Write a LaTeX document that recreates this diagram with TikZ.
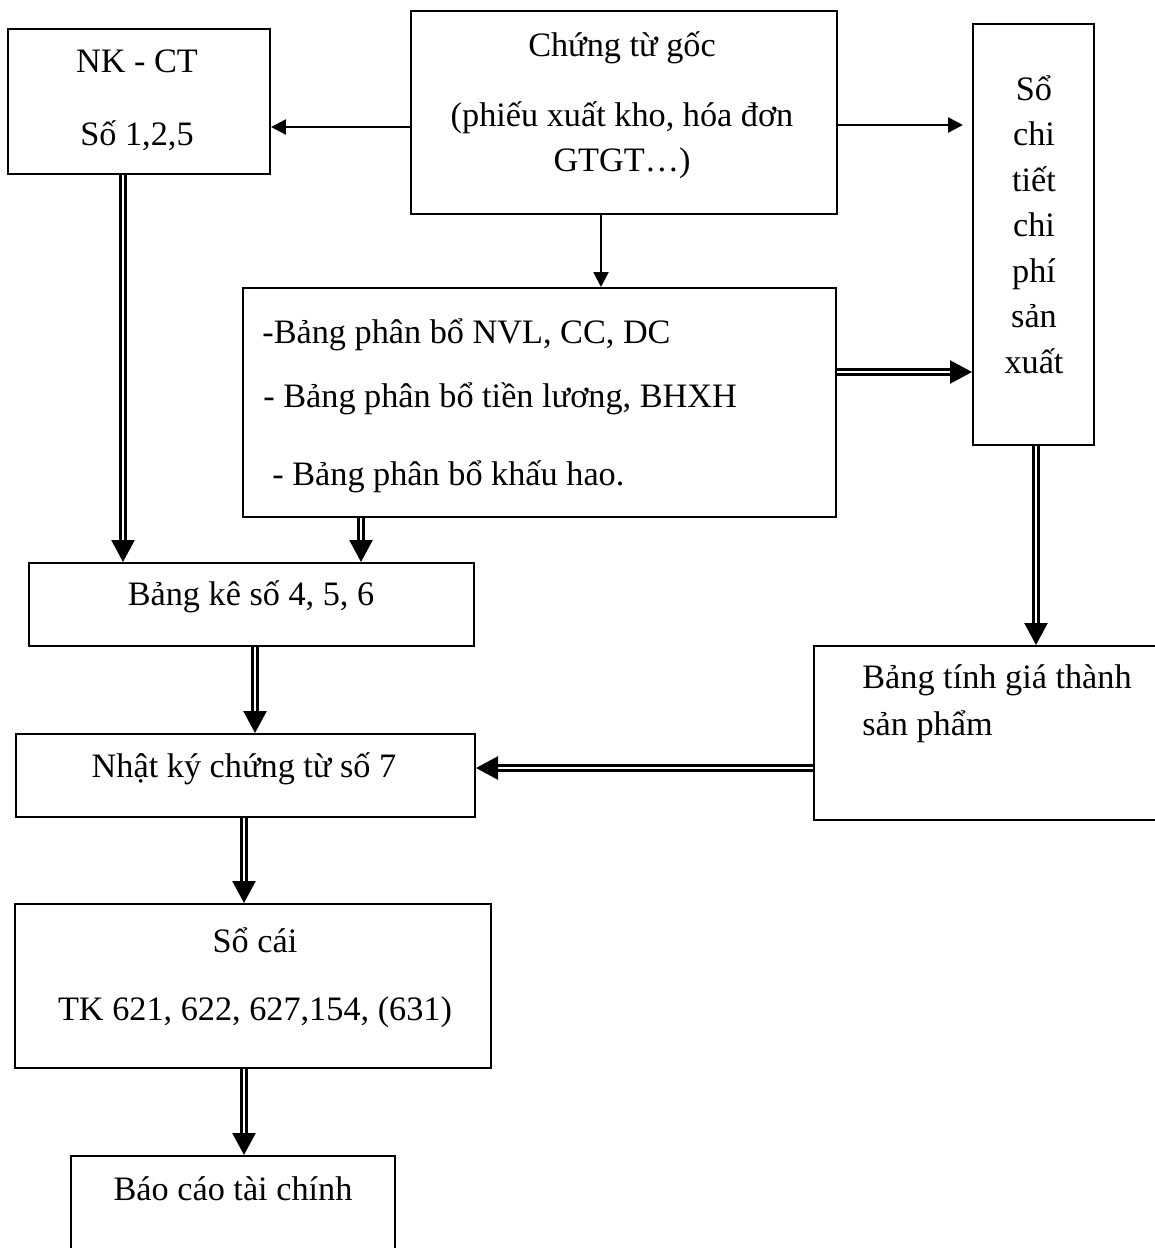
\documentclass[tikz,border=0pt]{standalone}
\usepackage{fontspec}
\setmainfont{Liberation Serif}
\usetikzlibrary{arrows.meta,fit}
\tikzset{
  box/.style={draw=black, line width=0.04cm, inner sep=0pt, fill=none},
  txt/.style={inner sep=0pt, font=\fontsize{19.5}{23}\selectfont},
  sarrow/.style={draw=black, line width=0.05cm, -{Triangle[length=0.3cm,width=0.3cm]}},
  darrow/.style={draw=black, line width=0.05cm, double=white, double distance=0.05cm,
                 -{Triangle[length=0.44cm,width=0.46cm]}}
}
\begin{document}
\begin{tikzpicture}[x=0.02cm,y=-0.02cm]
\clip (0,0) rectangle (1155,1248);
\fill[white] (0,0) rectangle (1155,1248);
% boxes
\node[box, fit={(8,29) (270,174)}] (nk) {};
\node[box, fit={(411,11) (837,214)}] (ctg) {};
\node[box, fit={(973,24) (1094,445)}] (sct) {};
\node[box, fit={(243,288) (836,517)}] (bpb) {};
\node[box, fit={(29,563) (474,646)}] (bk) {};
\node[box, fit={(16,734) (475,817)}] (nk7) {};
\node[box, fit={(814,646) (1165,820)}] (btg) {};
\node[box, fit={(15,904) (491,1068)}] (sc) {};
\node[box, fit={(71,1156) (395,1265)}] (bc) {};
% texts
\node[txt, anchor=base] (t-nk1) at (137,72) {NK - CT};
\node[txt, anchor=base] (t-nk2) at (137,145) {Số 1,2,5};
\node[txt, anchor=base] (t-c1) at (622,56) {Chứng từ gốc};
\node[txt, anchor=base] (t-c2) at (622,126) {(phiếu xuất kho, hóa đơn};
\node[txt, anchor=base] (t-c3) at (622,171) {GTGT…)};
\node[txt, anchor=base] (t-s1) at (1034,100) {Sổ};
\node[txt, anchor=base] (t-s2) at (1034,145) {chi};
\node[txt, anchor=base] (t-s3) at (1034,191) {tiết};
\node[txt, anchor=base] (t-s4) at (1034,236) {chi};
\node[txt, anchor=base] (t-s5) at (1034,282) {phí};
\node[txt, anchor=base] (t-s6) at (1034,327) {sản};
\node[txt, anchor=base] (t-s7) at (1034,373) {xuất};
\node[txt, anchor=base west] (t-b1) at (262,343) {-Bảng phân bổ NVL, CC, DC};
\node[txt, anchor=base west] (t-b2) at (263,407) {- Bảng phân bổ tiền lương, BHXH};
\node[txt, anchor=base west] (t-b3) at (272,485) {- Bảng phân bổ khấu hao.};
\node[txt, anchor=base] (t-bk) at (251,605) {Bảng kê số 4, 5, 6};
\node[txt, anchor=base] (t-n7) at (244,777) {Nhật ký chứng từ số 7};
\node[txt, anchor=base west] (t-g1) at (862,688) {Bảng tính giá thành};
\node[txt, anchor=base west] (t-g2) at (862,735) {sản phẩm};
\node[txt, anchor=base] (t-sc1) at (255,952) {Sổ cái};
\node[txt, anchor=base] (t-sc2) at (255,1020) {TK 621, 622, 627,154, (631)};
\node[txt, anchor=base] (t-bc) at (233,1200) {Báo cáo tài chính};
% guide coordinates
\coordinate (r1) at (0,127);
\coordinate (r2) at (0,125);
\coordinate (r3) at (601,0);
\coordinate (r4) at (0,372);
\coordinate (r5) at (123,0);
\coordinate (r6) at (361,0);
\coordinate (r7) at (1036,0);
\coordinate (r8) at (255,0);
\coordinate (r9) at (0,768);
\coordinate (r10) at (244,0);
% connectors
\draw[sarrow] (ctg.west |- r1) -- (nk.east |- r1);
\draw[sarrow, shorten >=0.18cm] (ctg.east |- r2) -- (sct.west |- r2);
\draw[sarrow] (ctg.south -| r3) -- (bpb.north -| r3);
\draw[darrow] (bpb.east |- r4) -- (sct.west |- r4);
\draw[darrow] (nk.south -| r5) -- (bk.north -| r5);
\draw[darrow] (bpb.south -| r6) -- (bk.north -| r6);
\draw[darrow] (sct.south -| r7) -- (btg.north -| r7);
\draw[darrow] (bk.south -| r8) -- (nk7.north -| r8);
\draw[darrow] (btg.west |- r9) -- (nk7.east |- r9);
\draw[darrow] (nk7.south -| r10) -- (sc.north -| r10);
\draw[darrow] (sc.south -| r10) -- (bc.north -| r10);
\end{tikzpicture}
\end{document}
